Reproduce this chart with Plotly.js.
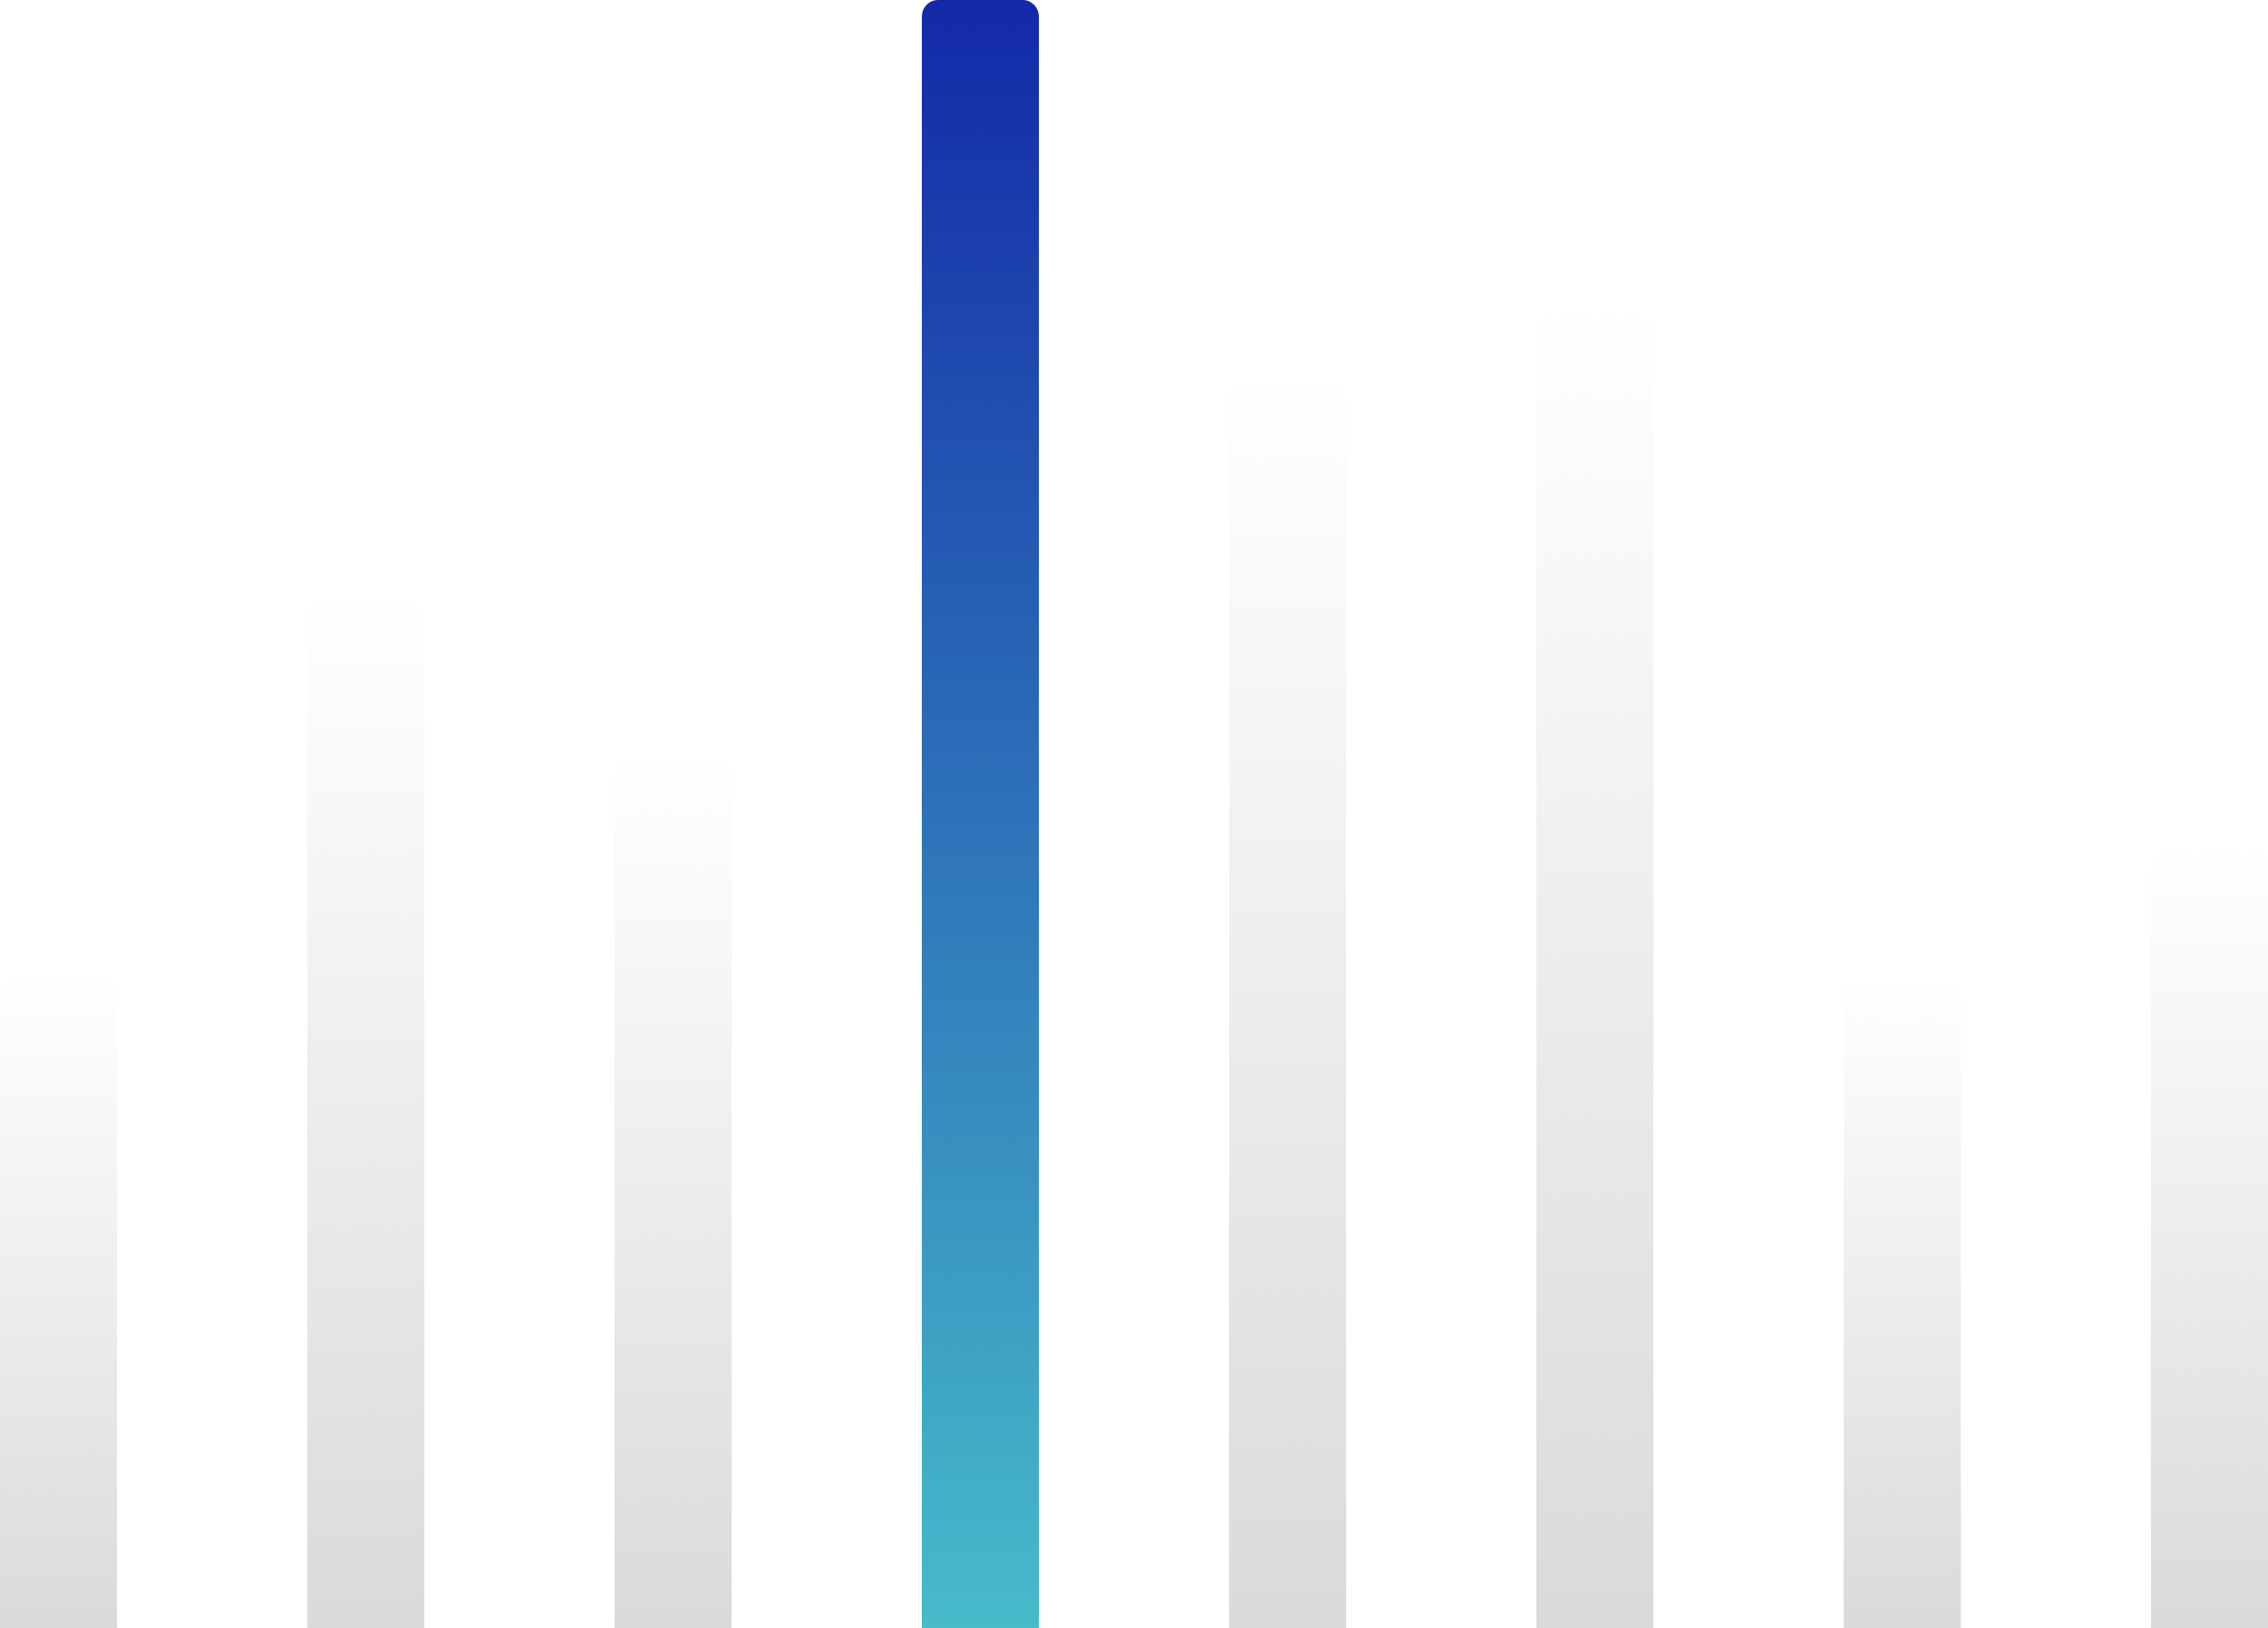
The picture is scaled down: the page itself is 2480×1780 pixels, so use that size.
<!DOCTYPE html>
<html>
<head>
<meta charset="utf-8">
<script src="https://cdn.plot.ly/plotly-3.0.1.min.js"></script>
<style>
  html, body { margin: 0; padding: 0; background: #ffffff; overflow: hidden; }
  #chart { width: 2480px; height: 1780px; }
</style>
</head>
<body>
<svg width="0" height="0" style="position:absolute">
  <defs>
    <linearGradient id="gradGray" x1="0" y1="0" x2="0" y2="1">
      <stop offset="0" stop-color="#ffffff"/>
      <stop offset="1" stop-color="#d9dadc"/>
    </linearGradient>
    <linearGradient id="gradBlue" x1="0" y1="0" x2="0" y2="1">
      <stop offset="0" stop-color="#1329a8"/>
      <stop offset="1" stop-color="#47bbca"/>
    </linearGradient>
  </defs>
</svg>
<div id="chart"></div>
<script>
// ---- data ----
const categories = ['1', '2', '3', '4', '5', '6', '7', '8'];
const values = [40, 63.2, 53.5, 100, 76.7, 80.9, 39.9, 47.9];
const highlightIndex = 3;

const fallbackColors = categories.map((c, i) => i === highlightIndex ? '#2d72b9' : '#ebebec');

const trace = {
  type: 'bar',
  x: categories,
  y: values,
  marker: { color: fallbackColors, line: { width: 0 }, cornerradius: 18 },
  hoverinfo: 'none'
};

const layout = {
  width: 2480,
  height: 1780,
  margin: { l: 0, r: 0, t: 0, b: 0, pad: 0 },
  paper_bgcolor: '#ffffff',
  plot_bgcolor: '#ffffff',
  showlegend: false,
  bargap: 1 - 128 / 336,
  xaxis: { type: 'category', visible: false, range: [-64 / 336, 7 + 64 / 336], fixedrange: true },
  yaxis: { visible: false, range: [0, Math.max(...values)], fixedrange: true }
};

function applyGradients() {
  const gd = document.getElementById('chart');
  const paths = gd.querySelectorAll('.barlayer .point path, .barlayer path');
  const seen = new Set();
  let i = 0;
  paths.forEach(p => {
    if (seen.has(p)) return;
    seen.add(p);
    const id = (i === highlightIndex) ? 'gradBlue' : 'gradGray';
    p.setAttribute('fill', 'url(#' + id + ')');
    p.style.setProperty('fill', 'url(#' + id + ')', 'important');
    p.style.setProperty('fill-opacity', '1', 'important');
    i++;
  });
}

const p = Plotly.newPlot('chart', [trace], layout, { staticPlot: true, displayModeBar: false, responsive: false });
applyGradients();
p.then(() => { applyGradients(); });
document.getElementById('chart').on && document.getElementById('chart').on('plotly_afterplot', applyGradients);
setTimeout(applyGradients, 50);
</script>
</body>
</html>
